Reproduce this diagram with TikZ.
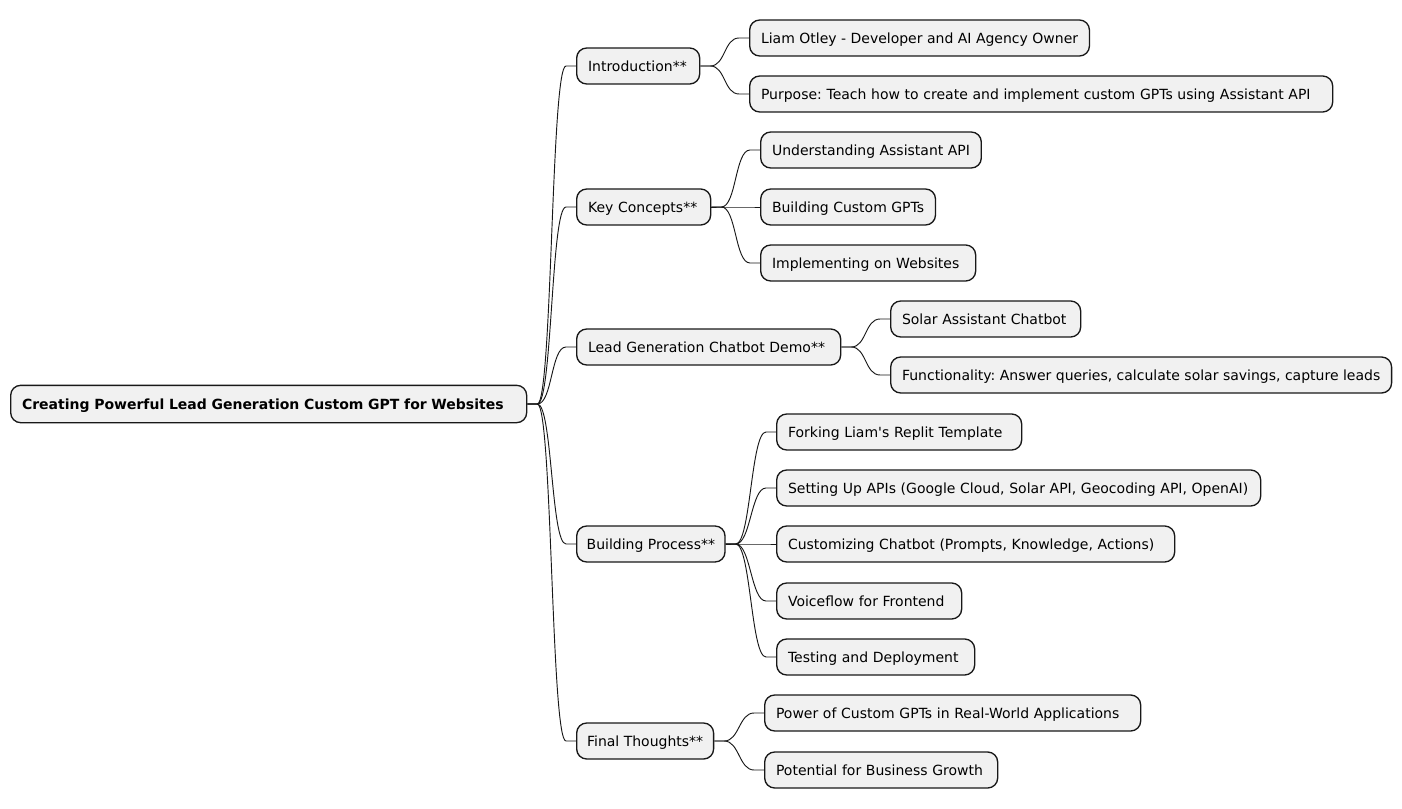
\documentclass[tikz,border=0pt]{standalone}
\usepackage{fontspec}
\setmainfont{DejaVu Sans}
\usepackage{tikz}
\usetikzlibrary{calc,positioning}
\definecolor{boxfill}{HTML}{F1F1F1}
\definecolor{boxline}{HTML}{181818}
\frenchspacing
\tikzset{
	topic/.style={draw=boxline,fill=boxfill,line width=1pt,rounded corners=7.5pt,
		minimum height=27pt,inner xsep=8.5pt,inner ysep=0pt,anchor=west,
		text height=10pt,text depth=1.4pt,
		font=\fontsize{10.5pt}{12pt}\selectfont},
	wd/.style={text width={(#1)*0.75pt-17pt},align=left},
	branch/.style={draw=boxline,line width=0.7pt,
		to path={-- ++(10,0) .. controls +(15,0) and ($(\tikztotarget)+(-25,0)$) .. ($(\tikztotarget)+(-10,0)$) -- (\tikztotarget)}}
}
\begin{document}
\begin{tikzpicture}[x=0.75pt,y=-0.75pt]
		\useasboundingbox (0,0) rectangle (1402,809);
		% root
		\node(root) [topic,minimum height=28pt,wd=516,font=\fontsize{10.5pt}{12pt}\selectfont\bfseries] at (10,404) {Creating Powerful Lead Generation Custom GPT for Websites};
		% first level
		\node(intro) [topic,wd=123] at (576,66) {Introduction**};
		\node(key) [topic,wd=134] at (576,207) {Key Concepts**};
		\node(demo) [topic,wd=264] at (576,347) {Lead Generation Chatbot Demo**};
		\node(build) [topic,inner xsep=7.5pt] at (576,544) {Building Process**};
		\node(final) [topic,inner xsep=7.8pt] at (576,741) {Final Thoughts**};
		% second level
		\node(intro1) [topic] at (749,38) {Liam Otley - Developer and AI Agency Owner};
		\node(intro2) [topic,wd=583] at (749,94) {Purpose: Teach how to create and implement custom GPTs using Assistant API};
		\node(key1) [topic] at (760,150) {Understanding Assistant API};
		\node(key2) [topic] at (760,207) {Building Custom GPTs};
		\node(key3) [topic,wd=215] at (760,263) {Implementing on Websites};
		\node(demo1) [topic,wd=190] at (890,319) {Solar Assistant Chatbot};
		\node(demo2) [topic] at (890,375) {Functionality: Answer queries, calculate solar savings, capture leads};
		\node(build1) [topic,wd=245] at (776,432) {Forking Liam\textquotesingle s Replit Template};
		\node(build2) [topic,wd=484] at (776,488) {Setting Up APIs (Google Cloud, Solar API, Geocoding API, OpenAI)};
		\node(build3) [topic,wd=398] at (776,544) {Customizing Chatbot (Prompts, Knowledge, Actions)};
		\node(build4) [topic,wd=185] at (776,601) {Voiceflow for Frontend};
		\node(build5) [topic,wd=198] at (776,657) {Testing and Deployment};
		\node(final1) [topic,wd=376] at (764,713) {Power of Custom GPTs in Real-World Applications};
		\node(final2) [topic,wd=233] at (764,770) {Potential for Business Growth};
		% connectors
		\foreach \t in {intro,key,demo,build,final}
			\draw[branch] (root.east) to (\t.west);
		\foreach \t in {intro1,intro2}
			\draw[branch] (intro.east) to (\t.west);
		\foreach \t in {key1,key2,key3}
			\draw[branch] (key.east) to (\t.west);
		\foreach \t in {demo1,demo2}
			\draw[branch] (demo.east) to (\t.west);
		\foreach \t in {build1,build2,build3,build4,build5}
			\draw[branch] (build.east) to (\t.west);
		\foreach \t in {final1,final2}
			\draw[branch] (final.east) to (\t.west);
	\end{tikzpicture}
\end{document}
